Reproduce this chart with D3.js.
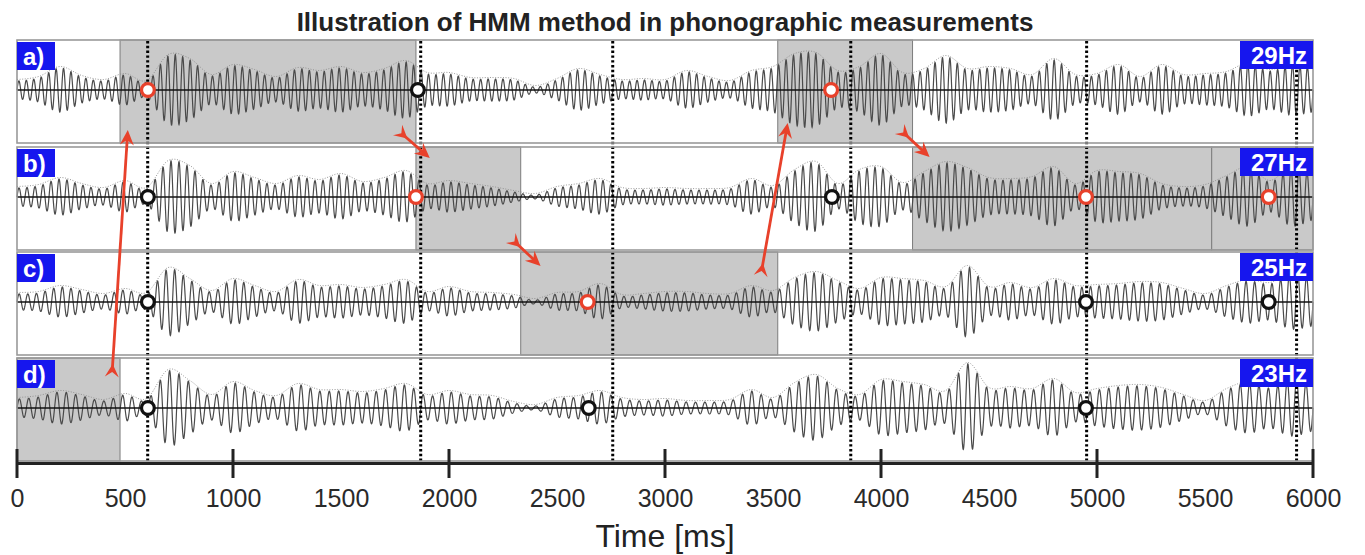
<html>
<head>
<meta charset="utf-8">
<script src="https://cdn.jsdelivr.net/npm/d3@7/dist/d3.min.js"></script>
<style>
body { margin: 0; background: #fff; }
text { font-family: "Liberation Sans", Arial, sans-serif; }
</style>
</head>
<body>
<svg id="chart" width="1365" height="555"></svg>
<script>
// ---- data ----
var panelNames = ["a)", "b)", "c)", "d)"];
var freqs = [29, 27, 25, 23];
var freqLabels = ["29Hz", "27Hz", "25Hz", "23Hz"];

// upper envelope of each filtered signal, one value every 100 ms (0..6000)
var envTimes = d3.range(0, 6001, 100);
var envA = [9,12,22,13,9,15,8,34,30,14, 24,19,12,21,18,22,16,20,28,16, 16,11,11,10,3,10,20,14,9,10,
            9,18,12,8,18,22,35,36,18,22, 35,16,20,33,20,22,20,14,30,14, 15,24,12,24,14,15,17,26,19,25, 22];
var envB = [9,11,18,12,8,15,8,35,30,12, 24,18,12,20,16,22,14,18,25,12, 15,12,9,5,2,9,12,17,8,7,
            8,7,7,8,17,10,26,34,12,26, 29,13,24,34,28,18,17,19,29,12, 25,24,22,12,9,11,20,29,15,29, 23];
var envC = [8,9,15,11,7,12,8,33,22,10, 22,15,9,21,15,16,13,16,21,9, 14,9,8,6,2,8,9,17,6,7,
            9,9,7,7,15,10,23,29,20,12, 23,22,20,14,35,14,18,13,22,15, 16,17,19,18,12,7,15,21,18,27, 24];
var envD = [9,11,16,12,7,13,8,37,26,12, 25,16,11,23,17,17,15,18,23,12, 16,12,11,5,2,9,11,16,9,7,
            8,6,6,7,17,9,24,32,18,12, 27,25,22,16,44,19,20,18,28,14, 18,21,22,19,12,6,18,25,20,28, 23];
var envs = [envA, envB, envC, envD];

// grey (selected) segments per panel, ms
var shadeA = [[477, 1847], [3522, 4146]];
var shadeB = [[1847, 2332], [4146, 5531], [5531, 6000]];
var shadeC = [[2332, 3522]];
var shadeD = [[0, 477]];
var shades = [shadeA, shadeB, shadeC, shadeD];

// vertical dotted boundaries, ms
var boundaries = [605, 1869, 2758, 3860, 4952, 5924];

// circles: [time ms, colour]
var dotsA = [[606, "red"], [1856, "black"], [3769, "red"]];
var dotsB = [[606, "black"], [1847, "red"], [3773, "black"], [4949, "red"], [5795, "red"]];
var dotsC = [[606, "black"], [2642, "red"], [4949, "black"], [5795, "black"]];
var dotsD = [[606, "black"], [2647, "black"], [4949, "black"]];
var dots = [dotsA, dotsB, dotsC, dotsD];

// red arrows: tail [ms, panel, level] -> head [ms, panel, level]
var arrows = [
  [[439, 3, 31], [513, 0, -40]],
  [[1762, 0, -40], [1911, 1, 39]],
  [[2286, 1, -41], [2424, 2, 36]],
  [[3443, 2, 26], [3568, 0, -33]],
  [[4086, 0, -39], [4225, 1, 40]]
];

var tickMajor = d3.range(0, 6001, 1000);
var tickLabels = d3.range(0, 6001, 500);

// ---- layout ----
var svg = d3.select("#chart");
var x = d3.scaleLinear().domain([0, 6000]).range([17, 1313]);
var panelTop = [40, 147, 252, 358];
var panelH = 103;
var ys = panelTop.map(function(t) { return d3.scaleLinear().domain([-50, 50]).range([t + 100, t]); });
var red = "#e8412b";

function envAt(arr, t) {
  var s = t / 100, i = Math.floor(s), u = s - i, n = arr.length;
  var p0 = arr[Math.max(i - 1, 0)], p1 = arr[Math.min(i, n - 1)],
      p2 = arr[Math.min(i + 1, n - 1)], p3 = arr[Math.min(i + 2, n - 1)];
  var v = 0.5 * (2 * p1 + (-p0 + p2) * u + (2 * p0 - 5 * p1 + 4 * p2 - p3) * u * u + (-p0 + 3 * p1 - 3 * p2 + p3) * u * u * u);
  return Math.max(v, 0.6);
}

svg.append("text").attr("x", 665).attr("y", 31).attr("text-anchor", "middle")
  .style("font-size", "26px").style("font-weight", "bold").attr("fill", "#222")
  .text("Illustration of HMM method in phonographic measurements");

var samples = d3.range(0, 6000.5, 1);
var envSamples = d3.range(0, 6000.5, 5);

panelNames.forEach(function(name, i) {
  var y = ys[i], top = panelTop[i];
  var g = svg.append("g");
  g.append("rect").attr("x", x(0)).attr("y", top).attr("width", x(6000) - x(0)).attr("height", panelH).attr("fill", "#fff");
  g.selectAll("rect.shade").data(shades[i]).enter().append("rect").attr("class", "shade")
    .attr("x", function(d) { return x(d[0]); }).attr("y", top)
    .attr("width", function(d) { return x(d[1]) - x(d[0]); }).attr("height", panelH)
    .attr("fill", "#c9c9c9").attr("stroke", "#7d7d7d").attr("stroke-width", 1);

  var wave = d3.line()
    .x(function(t) { return x(t); })
    .y(function(t) { return y(envAt(envs[i], t) * Math.sin(2 * Math.PI * freqs[i] * t / 1000)); });
  g.append("path").datum(samples).attr("d", wave).attr("fill", "none")
    .attr("stroke", "#4a4a4a").attr("stroke-width", 1.2);

  var env = d3.line().x(function(t) { return x(t); }).y(function(t) { return y(envAt(envs[i], t) + 1.5); });
  g.append("path").datum(envSamples).attr("d", env).attr("fill", "none")
    .attr("stroke", "#8a8a8a").attr("stroke-width", 0.9).attr("stroke-dasharray", "1,1.6");

  g.append("line").attr("x1", x(0)).attr("x2", x(6000)).attr("y1", y(0)).attr("y2", y(0))
    .attr("stroke", "#111").attr("stroke-width", 1.3);
});

// dotted boundaries
svg.selectAll("line.bound").data(boundaries).enter().append("line").attr("class", "bound")
  .attr("x1", function(d) { return x(d); }).attr("x2", function(d) { return x(d); })
  .attr("y1", 41).attr("y2", 461)
  .attr("stroke", "#000").attr("stroke-width", 3).attr("stroke-dasharray", "2.4,2.4");

// circles
dots.forEach(function(list, i) {
  svg.selectAll(null).data(list).enter().append("circle")
    .attr("cx", function(d) { return x(d[0]); }).attr("cy", ys[i](0)).attr("r", 6.4)
    .attr("fill", "#fff").attr("stroke", function(d) { return d[1] === "red" ? red : "#111"; })
    .attr("stroke-width", 3.2);
});

// borders and labels
panelNames.forEach(function(name, i) {
  var top = panelTop[i];
  svg.append("rect").attr("x", x(0)).attr("y", top).attr("width", x(6000) - x(0)).attr("height", panelH)
    .attr("fill", "none").attr("stroke", "#9a9a9a").attr("stroke-width", 1.6);
  svg.append("rect").attr("x", x(0)).attr("y", top + 2).attr("width", 38).attr("height", 28).attr("fill", "#1616ee");
  svg.append("text").attr("x", x(0) + 6).attr("y", top + 25).attr("fill", "#fff")
    .style("font-size", "24px").style("font-weight", "bold").text(name);
  svg.append("rect").attr("x", x(6000) - 73).attr("y", top + 1).attr("width", 73).attr("height", 28).attr("fill", "#1616ee");
  svg.append("text").attr("x", x(6000) - 6).attr("y", top + 24).attr("fill", "#fff").attr("text-anchor", "end")
    .style("font-size", "24px").style("font-weight", "bold").text(freqLabels[i]);
});

// red arrows
arrows.forEach(function(a) {
  var tx = x(a[0][0]), ty = ys[a[0][1]](a[0][2]);
  var hx = x(a[1][0]), hy = ys[a[1][1]](a[1][2]);
  var L = Math.hypot(hx - tx, hy - ty), ux = (hx - tx) / L, uy = (hy - ty) / L, nx = -uy, ny = ux;
  svg.append("line").attr("x1", tx + ux * 8).attr("y1", ty + uy * 8).attr("x2", hx - ux * 9).attr("y2", hy - uy * 9)
    .attr("stroke", red).attr("stroke-width", 2.8);
  var head = [[hx, hy], [hx - ux * 15 + nx * 7, hy - uy * 15 + ny * 7], [hx - ux * 10, hy - uy * 10],
              [hx - ux * 15 - nx * 7, hy - uy * 15 - ny * 7]];
  svg.append("path").attr("d", d3.line()(head) + "Z").attr("fill", red);
  var tail = [[tx + ux * 13, ty + uy * 13], [tx + nx * 7, ty + ny * 7], [tx + ux * 5, ty + uy * 5],
              [tx - nx * 7, ty - ny * 7]];
  svg.append("path").attr("d", d3.line()(tail) + "Z").attr("fill", red);
});

// time axis
var axisG = svg.append("g").attr("transform", "translate(0,463)")
  .call(d3.axisBottom(x).tickValues(tickLabels).tickSize(0).tickSizeOuter(0).tickPadding(26)
    .tickFormat(d3.format("d")));
axisG.select(".domain").attr("stroke", "#222").attr("stroke-width", 3.2);
axisG.selectAll(".tick text").style("font-size", "25px").attr("fill", "#2a2a2a")
  .style("font-family", "'Liberation Sans', Arial, sans-serif");
axisG.selectAll("line.major").data(tickMajor).enter().append("line").attr("class", "major")
  .attr("x1", function(d) { return x(d); }).attr("x2", function(d) { return x(d); })
  .attr("y1", -14).attr("y2", 15).attr("stroke", "#222").attr("stroke-width", 3);

svg.append("text").attr("x", 665).attr("y", 547).attr("text-anchor", "middle")
  .style("font-size", "32px").attr("fill", "#222").text("Time [ms]");
</script>
</body>
</html>
